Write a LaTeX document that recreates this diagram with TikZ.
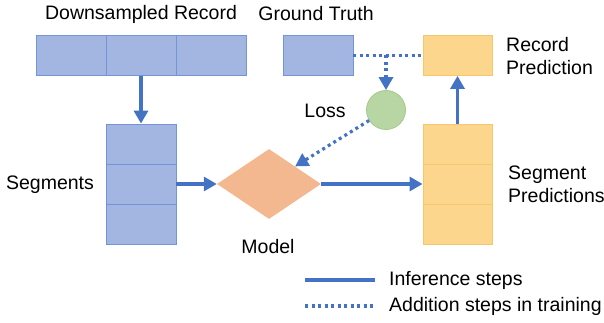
\documentclass[tikz,border=0pt]{standalone}
\usepackage{fontspec}
\setmainfont{Liberation Sans}
\usetikzlibrary{arrows.meta,calc,shapes.geometric}
\definecolor{CellClr}{HTML}{A3B6E1}
\definecolor{CellLine}{HTML}{7494D9}
\definecolor{PredClr}{HTML}{FCD68C}
\definecolor{PredLine}{HTML}{F8C76C}
\definecolor{ModelClr}{HTML}{F4B891}
\definecolor{LossClr}{HTML}{B7D6A3}
\definecolor{LossLine}{HTML}{A3C98B}
\definecolor{StepClr}{HTML}{4472C4}

\tikzset{
  cell/.style={draw=CellLine,fill=CellClr,line width=0.8pt,minimum width=70pt,minimum height=40pt,inner sep=0pt},
  pred/.style={draw=PredLine,fill=PredClr,line width=0.8pt,minimum width=69pt,minimum height=40pt,inner sep=0pt},
  lbl/.style={font=\fontsize{19.5}{23}\selectfont,inner sep=0pt},
  infer/.style={draw=StepClr,line width=3.2pt,-{Triangle[width=14pt,length=13pt]}},
  train/.style={draw=StepClr,line width=3.2pt,dash pattern=on 3pt off 3.5pt,-{Triangle[width=14pt,length=13pt]}}
}

\begin{document}
\begin{tikzpicture}[x=1pt,y=-1pt]
\useasboundingbox (0,0) rectangle (604,323);

% downsampled record
\node[cell] (rec1) at (71,55.5) {};
\node[cell] (rec2) at (141,55.5) {};
\node[cell] (rec3) at (211,55.5) {};

% segments
\node[cell] (seg1) at (141,144) {};
\node[cell] (seg2) at (141,184) {};
\node[cell] (seg3) at (141,224.5) {};

% ground truth and predictions
\node[cell] (gt) at (318,55.5) {};
\node[pred] (recpred) at (457.5,55.5) {};
\node[pred] (segp1) at (457.5,144) {};
\node[pred] (segp2) at (457.5,184) {};
\node[pred] (segp3) at (457.5,224.5) {};

\node[diamond,fill=ModelClr,inner sep=0pt,aspect=1.49,minimum width=104pt,minimum height=70pt] (model) at (269,184) {};
\node[circle,draw=LossLine,fill=LossClr,line width=0.8pt,minimum size=39pt,inner sep=0pt] (loss) at (386,110) {};

\node[lbl] (tdown) at (141,14) {Downsampled Record};
\node[lbl] (tgt) at (316,14) {Ground Truth};
\node[lbl] (tseg) at (50,185) {Segments};
\node[lbl] (tmodel) at (268,247) {Model};
\node[lbl] (tloss) at (325,111) {Loss};
\node[lbl,anchor=west,align=left] (trec) at (506,56) {Record\\Prediction};
\node[lbl,anchor=west,align=left] (tsegp) at (508,184) {Segment\\Predictions};

% inference
\draw[infer] (rec2.south) -- (seg1.north);
\draw[infer] (seg2.east) -- (model.west);
\draw[infer] (model.east) -- (segp2.west);
\draw[infer] (segp1.north) -- (recpred.south);

% training
\coordinate (br) at (386,55.5);
\draw[StepClr,line width=3.2pt,dash pattern=on 3pt off 3.5pt] (gt.east) -- (recpred.west);
\draw[train] (br) -- (loss.north);
\draw[train] (loss) -- (model.north east);

% legend
\coordinate (la) at (305,280);
\coordinate (lb) at (375,280);
\coordinate (lc) at (305,306);
\coordinate (ld) at (375,306);
\draw[StepClr,line width=3.2pt] (la) -- (lb);
\draw[StepClr,line width=3.2pt,dash pattern=on 3pt off 3.5pt] (lc) -- (ld);
\node[lbl,anchor=west] (tinf) at (389,280) {Inference steps};
\node[lbl,anchor=west] (ttrain) at (389,306) {Addition steps in training};
\end{tikzpicture}
\end{document}
